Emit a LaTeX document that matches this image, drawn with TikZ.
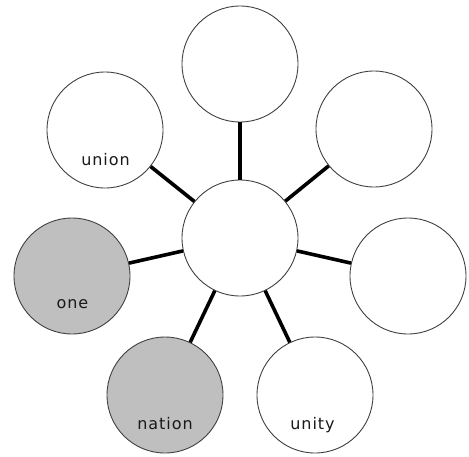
\documentclass[tikz,border=0pt]{standalone}
\usepackage{fontspec}
\setmainfont{DejaVu Sans}[LetterSpace=6]
\begin{document}
\begin{tikzpicture}[x=1pt,y=-1pt,
  bubble/.style={circle,draw=black!75,line width=0.9pt,fill=white,minimum size=116pt,inner sep=0pt},
  shaded/.style={bubble,fill=black!25},
  link/.style={line width=3.6pt,black},
  lbl/.style={anchor=base,inner sep=0pt,font=\fontsize{16}{18}\selectfont,text=black!90}]
\useasboundingbox (0,0) rectangle (469,456);
\node[bubble] (c) at (240,238) {};
\node[bubble] (t) at (240,64) {};
\node[bubble] (tl) at (105,130) {};
\node[bubble] (tr) at (374,129) {};
\node[bubble] (r) at (408,276) {};
\node[shaded] (l) at (72,276) {};
\node[shaded] (bl) at (165,395) {};
\node[bubble] (br) at (315,395) {};
\foreach \n in {t,tl,tr,r,l,bl,br} \draw[link] (c) -- (\n);
\node[lbl] (tlx) at (105.5,165) {union};
\node[lbl] (lx) at (72.5,308) {one};
\node[lbl] (blx) at (165,429) {nation};
\node[lbl] (brx) at (312.5,429) {unity};
\end{tikzpicture}
\end{document}
